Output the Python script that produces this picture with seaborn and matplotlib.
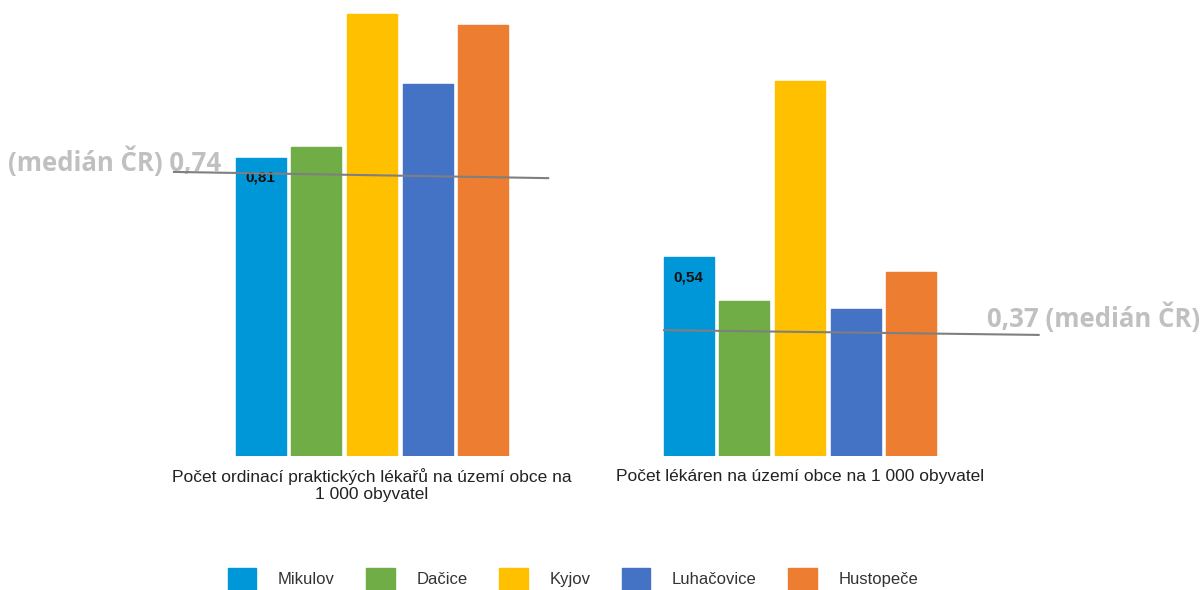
import pandas as pd
import matplotlib.pyplot as plt
import seaborn as sns
from matplotlib.patches import Patch

categories = [
    "Počet ordinací praktických lékařů na území obce na\n1 000 obyvatel",
    "Počet lékáren na území obce na 1 000 obyvatel",
]
towns = ["Mikulov", "Dačice", "Kyjov", "Luhačovice", "Hustopeče"]
mikulov = [0.81, 0.54]
dacice = [0.84, 0.42]
kyjov = [1.20, 1.02]
luhacovice = [1.01, 0.40]
hustopece = [1.17, 0.50]

median_labels = ["(medián ČR) 0,74", "0,37 (medián ČR)"]
# median lines as drawn in the picture (slightly tilted): start / end level
median_start = [0.772, 0.342]
median_end = [0.755, 0.329]

colors = ["#0097D8", "#70AD47", "#FFC000", "#4472C4", "#ED7D31"]

rows = []
for town, vals in zip(towns, [mikulov, dacice, kyjov, luhacovice, hustopece]):
    for cat, v in zip(categories, vals):
        rows.append({"cat": cat, "town": town, "value": v})
df = pd.DataFrame(rows)

sns.set_theme(style="white")
plt.rcParams['font.family'] = ['Liberation Sans', 'DejaVu Sans']

W, H = 1203, 590
fig = plt.figure(figsize=(W / 100, H / 100), dpi=100)
base = 456
ax = fig.add_axes([0, (H - base) / H, 1, base / H])

sns.barplot(data=df, x="cat", y="value", hue="town", hue_order=towns,
            palette=colors, saturation=1, width=0.65, gap=0.1, legend=False,
            ax=ax, linewidth=1.0)
for p in ax.patches:
    p.set_edgecolor(p.get_facecolor())
    p.set_joinstyle('round')

px = 428.0
ax.set_xlim(-372 / px, (W - 372) / px)
ax.set_ylim(0, base / 368.0)
sns.despine(ax=ax, left=True, bottom=True)
ax.set_yticks([])
ax.set_xlabel("")
ax.set_ylabel("")
ax.tick_params(axis='x', length=0, pad=9, labelsize=12.5, labelcolor="#222222")
for lbl in ax.get_xticklabels():
    lbl.set_linespacing(1.15)

# value labels on the Mikulov bars
for i, v in enumerate(mikulov):
    x = i - 0.65 / 2 + 0.65 / 10
    ax.text(x, v - 0.035, f"{v:.2f}".replace(".", ","), ha="center", va="top",
            fontsize=11, fontweight="bold", color="#111111",
            family=['Liberation Sans', 'DejaVu Sans'])

# median lines
offsets = [(-0.465, 0.414), (-0.32, 0.56)]
for i in range(2):
    x0, x1 = offsets[i]
    ax.plot([i + x0, i + x1], [median_start[i], median_end[i]],
            color="#7F7F7F", lw=1.5, solid_capstyle="butt", zorder=5)

txt_kw = dict(fontsize=18.5, fontweight="bold", color="#C0C0C0",
              family=['Open Sans', 'DejaVu Sans'], va="center")
ax.text(-364 / px, (base - 162) / 368.0, median_labels[0], ha="left", **txt_kw)
ax.text((W - 3 - 372) / px, (base - 318) / 368.0, median_labels[1], ha="right", **txt_kw)

handles = [Patch(facecolor=c, edgecolor=c, label=t) for c, t in zip(colors, towns)]
fig.legend(handles=handles, loc="center", ncol=5, frameon=False,
           bbox_to_anchor=(573 / W, 1 - 579 / H), fontsize=12,
           handlelength=1.7, handleheight=1.6, handletextpad=1.3,
           columnspacing=1.9, labelcolor="#333333")

fig.savefig("out.png", dpi=100)
